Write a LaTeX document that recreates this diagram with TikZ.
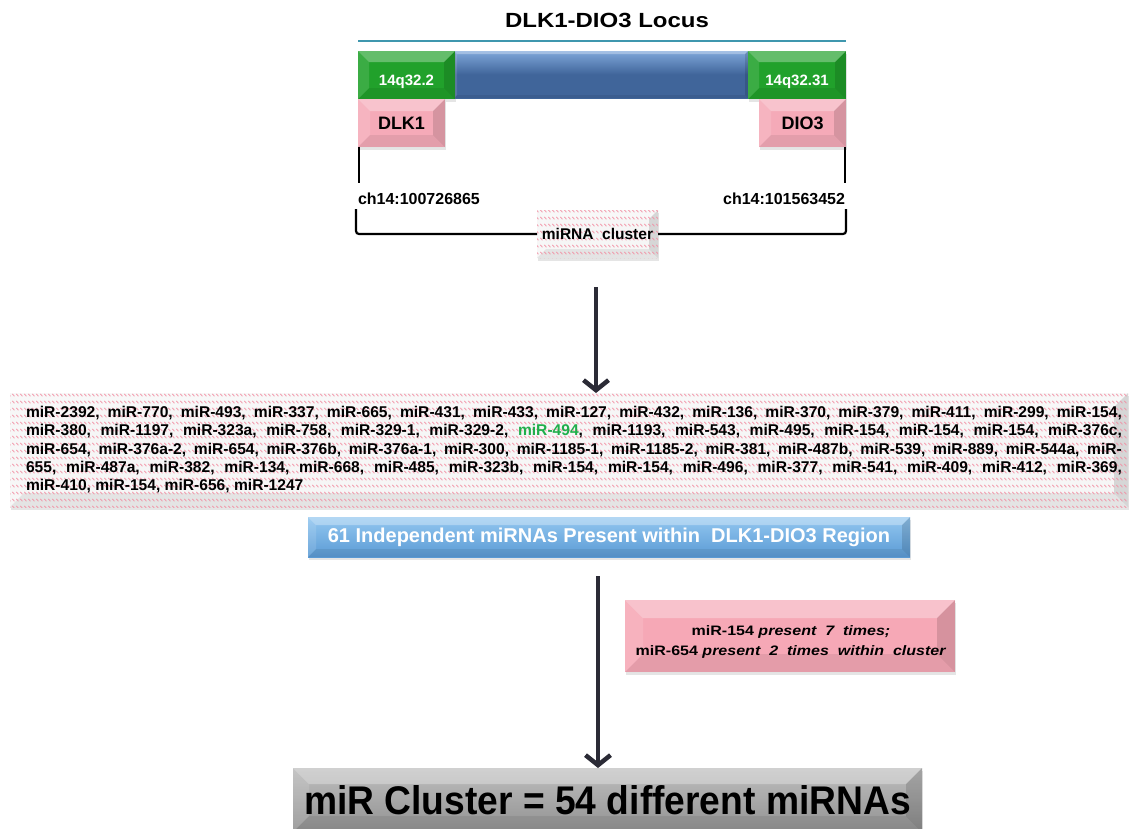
\documentclass[tikz,border=0pt]{standalone}
\usepackage{fontspec}
\usepackage{graphicx}
\setmainfont{Liberation Sans}
\newfontfamily\widefont[FakeStretch=1.17]{Liberation Sans}
\usetikzlibrary{arrows.meta,shadows,patterns.meta}

\definecolor{gbox}{HTML}{21A12B}
\definecolor{pbox}{HTML}{F5AAB8}
\definecolor{barblue}{HTML}{40659A}
\definecolor{barbluetop}{HTML}{7FA7DA}
\definecolor{lineteal}{HTML}{3F97AE}
\definecolor{bannerblue}{HTML}{5B9BD5}
\definecolor{bannertop}{HTML}{93C7F0}
\definecolor{resgrey}{HTML}{929292}
\definecolor{resgreytop}{HTML}{BDBDBD}
\definecolor{hatchpink}{HTML}{F28FA3}
\definecolor{arrowc}{HTML}{2B2B36}
\definecolor{mirgreen}{HTML}{1FAF4B}
\definecolor{notepink}{HTML}{F6A8B6}
\definecolor{paleface}{HTML}{F6F6F6}

% rows of short slanted pink dashes
\tikzdeclarepattern{
  name=dashrows,
  type=uncolored,
  bounding box={(0pt,0pt) and (4pt,6.5pt)},
  tile size={(4pt,6.5pt)},
  code={\draw[line width=0.85pt] (0.5pt,4.4pt) -- (3pt,1.9pt);}
}

\tikzset{
  % bevelled box: #1 face colour, #2 bevel depth
  bev/.style 2 args={rectangle, inner sep=0pt, outer sep=0pt, fill=#1,
    path picture={
      \fill[white,opacity=0.30] (path picture bounding box.north west) -- (path picture bounding box.north east)
        -- ([xshift=-#2,yshift=-#2]path picture bounding box.north east) -- ([xshift=#2,yshift=-#2]path picture bounding box.north west) -- cycle;
      \fill[white,opacity=0.12] (path picture bounding box.north west) -- ([xshift=#2,yshift=-#2]path picture bounding box.north west)
        -- ([xshift=#2,yshift=#2]path picture bounding box.south west) -- (path picture bounding box.south west) -- cycle;
      \fill[black,opacity=0.07] (path picture bounding box.south west) -- (path picture bounding box.south east)
        -- ([xshift=-#2,yshift=#2]path picture bounding box.south east) -- ([xshift=#2,yshift=#2]path picture bounding box.south west) -- cycle;
      \fill[black,opacity=0.13] (path picture bounding box.north east) -- (path picture bounding box.south east)
        -- ([xshift=-#2,yshift=#2]path picture bounding box.south east) -- ([xshift=-#2,yshift=-#2]path picture bounding box.north east) -- cycle;
    }},
  shad/.style={drop shadow={opacity=0.2, shadow xshift=1pt, shadow yshift=-3pt}},
  hatch/.style={postaction={pattern=dashrows, pattern color=hatchpink}},
  txt/.style={inner sep=0pt, outer sep=0pt},
  blk/.style={black, line width=2.2pt},
  bigarrow/.style={arrowc, line width=4.5pt, -{Straight Barb[length=10pt, width=25pt]}},
  listline/.style={txt, anchor=base west, font=\bfseries\fontsize{15.6}{17}\selectfont},
}

\begin{document}
\begin{tikzpicture}[x=1pt, y=-1pt]
\useasboundingbox[fill=white] (0,0) rectangle (1134,828);

% title and locus line
\node[txt, anchor=base, font=\widefont\bfseries\fontsize{20.5}{24}\selectfont] (title) at (607,27) {DLK1-DIO3 Locus};
\coordinate (tl) at (358,41);
\coordinate (tr) at (846,41);
\draw[lineteal, line width=2.2pt] (tl) -- (tr);

% chromosome bar with the two bands
\node[bev={barblue}{3pt}, top color=barbluetop, bottom color=barblue, middle color=barblue,
      minimum width=294pt, minimum height=47pt, anchor=north west] (bar) at (454,51) {};
\node[bev={gbox}{11pt}, shad, minimum width=97pt, minimum height=48pt, anchor=north west] (g1) at (358,51) {};
\node[bev={gbox}{11pt}, shad, minimum width=98pt, minimum height=48pt, anchor=north west] (g2) at (748,51) {};
\node[txt, anchor=base, text=white, font=\bfseries\fontsize{15}{17}\selectfont] (g1t) at (406.5,85) {14q32.2};
\node[txt, anchor=base, text=white, font=\bfseries\fontsize{15}{17}\selectfont] (g2t) at (797,85) {14q32.31};

% genes
\node[bev={pbox}{12pt}, shad, minimum width=87pt, minimum height=48pt, anchor=north west,
      font=\bfseries\fontsize{18}{20}\selectfont] (p1) at (358,99) {DLK1};
\node[bev={pbox}{12pt}, shad, minimum width=87pt, minimum height=48pt, anchor=north west,
      font=\bfseries\fontsize{18}{20}\selectfont] (p2) at (759,99) {DIO3};

% coordinates of the cluster ends
\coordinate (v1) at (359,183);
\coordinate (v2) at (845,183);
\draw[blk] (v1 |- p1.south) -- (v1);
\draw[blk] (v2 |- p2.south) -- (v2);
\node[txt, anchor=base west, font=\bfseries\fontsize{16}{18}\selectfont] (c1) at (358,204) {ch14:100726865};
\node[txt, anchor=base east, font=\bfseries\fontsize{16}{18}\selectfont] (c2) at (845,204) {ch14:101563452};

% cluster bracket
\node[bev={paleface}{9pt}, hatch, shad, minimum width=121pt, minimum height=48pt, anchor=north west,
      font=\bfseries\fontsize{15.5}{17}\selectfont] (clu) at (537,210) {miRNA\ \ cluster};
\coordinate (b1) at (356,209);
\coordinate (b2) at (846,209);
\draw[blk, rounded corners=3pt] (b1) |- (clu.west);
\draw[blk, rounded corners=3pt] (b2) |- (clu.east);

% list of miRNAs
\node[bev={paleface}{14pt}, hatch, shad, minimum width=1118pt, minimum height=114pt, anchor=north west] (list) at (10,393) {};
\node[listline] (l1) at (26,417) {\makebox[1096pt][s]{miR-2392, miR-770, miR-493, miR-337, miR-665, miR-431, miR-433, miR-127, miR-432, miR-136, miR-370, miR-379, miR-411, miR-299, miR-154,}};
\node[listline] (l2) at (26,435) {\makebox[1096pt][s]{miR-380, miR-1197, miR-323a, miR-758, miR-329-1, miR-329-2, \textcolor{mirgreen}{miR-494}, miR-1193, miR-543, miR-495, miR-154, miR-154, miR-154, miR-376c,}};
\node[listline] (l3) at (26,454) {\makebox[1096pt][s]{miR-654, miR-376a-2, miR-654, miR-376b, miR-376a-1, miR-300, miR-1185-1, miR-1185-2, miR-381, miR-487b, miR-539, miR-889, miR-544a, miR-}};
\node[listline] (l4) at (26,472) {\makebox[1096pt][s]{655, miR-487a, miR-382, miR-134, miR-668, miR-485, miR-323b, miR-154, miR-154, miR-496, miR-377, miR-541, miR-409, miR-412, miR-369,}};
\node[listline] (l5) at (26,490) {miR-410, miR-154, miR-656, miR-1247};

% arrow from the cluster to the list
\coordinate (a1) at (596,287);
\draw[bigarrow] (a1) -- (a1 |- list.north);

% summary banner
\node[bev={bannerblue}{8pt}, top color=bannertop, bottom color=bannerblue, shad,
      minimum width=602pt, minimum height=40pt, anchor=north west, text=white,
      font=\bfseries\fontsize{20}{22}\selectfont] (ban) at (308,517) {61 Independent miRNAs Present within\ \ DLK1-DIO3 Region};

% note on repeated members
\node[bev={notepink}{18pt}, shad, minimum width=330pt, minimum height=72pt, anchor=north west] (note) at (625,600) {};
\node[txt, align=center, font=\widefont\bfseries\fontsize{13.7}{20}\selectfont] (notetext) at (791,642)
      {miR-154 \textit{present\ \ 7\ \ times;}\\ miR-654 \textit{present\ \ 2\ \ times\ \ within\ \ cluster}};

% arrow to the result
\coordinate (a2) at (598,576);

% result
\node[bev={resgrey}{16pt}, top color=resgreytop, bottom color=resgrey, shad,
      minimum width=629pt, minimum height=64pt, anchor=north west,
      font=\bfseries\fontsize{40}{44}\selectfont] (res) at (293,768) {\raisebox{-2pt}{\scalebox{0.93}[1]{miR Cluster = 54 different miRNAs}}};
\draw[bigarrow] (a2) -- (a2 |- res.north);
\end{tikzpicture}
\end{document}
